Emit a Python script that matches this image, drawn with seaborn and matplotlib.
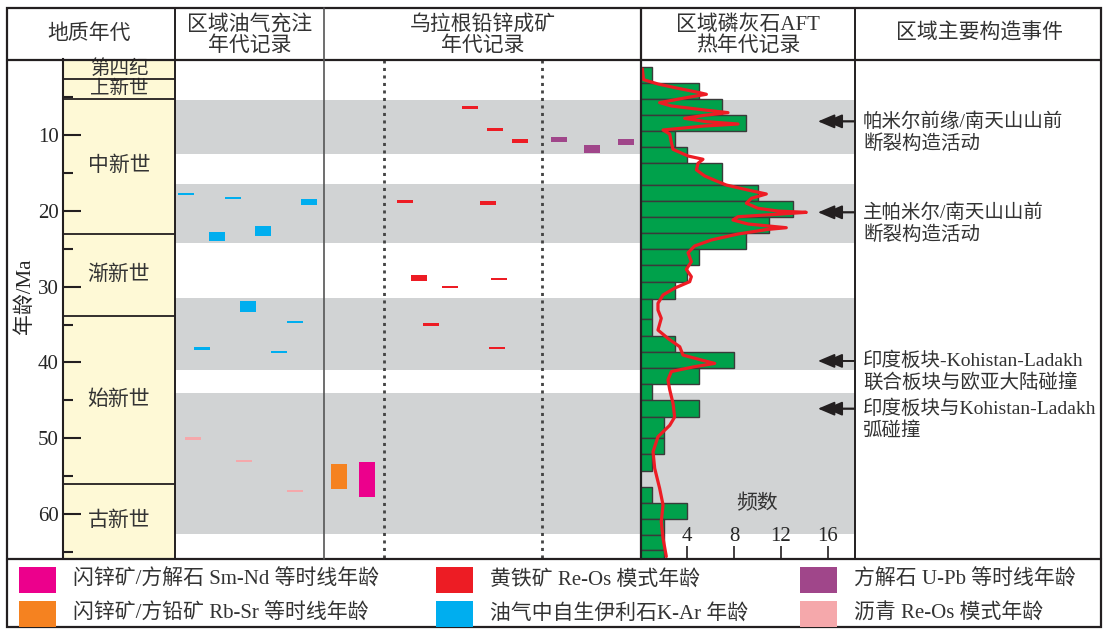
import numpy as np
import matplotlib
matplotlib.use("Agg")
import matplotlib.pyplot as plt
import seaborn as sns
from matplotlib.patches import Rectangle

# ---------------- data ----------------
# geological time scale (Ma)
epoch_names = ["第四纪", "上新世", "中新世", "渐新世", "始新世", "古新世"]
epoch_bounds = [0.0, 2.6, 5.3, 23.0, 33.9, 56.0, 65.8]

# periods highlighted in grey (Ma)
band_top = [5.4, 16.5, 31.5, 44.0]
band_base = [12.5, 24.2, 41.0, 62.6]

# regional hydrocarbon charge: authigenic illite K-Ar (age, half-range, sample slot)
illite_age = [17.80, 38.17, 23.39, 18.33, 32.65, 22.64, 38.61, 34.65, 18.84]
illite_err = [0.12, 0.12, 0.55, 0.12, 0.75, 0.64, 0.12, 0.12, 0.40]
illite_slot = [3, 19, 34, 50, 65, 80, 96, 112, 126]
# bitumen Re-Os model ages
bitumen_age = [50.04, 53.03, 56.98]
bitumen_err = [0.12, 0.12, 0.12]
bitumen_slot = [10, 61, 112]

# Uragen Pb-Zn mineralization
smnd_age = [55.40]
smnd_err = [2.30]
smnd_slot = [35]
rbsr_age = [55.05]
rbsr_err = [1.65]
rbsr_slot = [7]
pyrite_age = [6.37, 9.27, 10.80, 18.75, 18.95, 28.85, 29.02, 30.08, 35.00, 38.05]
pyrite_err = [0.11, 0.11, 0.22, 0.22, 0.22, 0.35, 0.10, 0.12, 0.12, 0.12]
pyrite_slot = [138, 163, 188, 73, 156, 87, 167, 118, 99, 165]
calcite_age = [10.60, 11.87, 10.95]
calcite_err = [0.30, 0.50, 0.42]
calcite_slot = [227, 260, 294]

# apatite fission-track ages: histogram bins (Ma) and counts
aft_edges = [1.07, 3.18, 5.29, 7.4, 9.5, 11.6, 13.7, 16.6, 18.7, 20.86, 22.97,
             25.1, 27.2, 29.4, 31.6, 34.3, 36.5, 38.6, 40.8, 42.9, 45.0, 47.2,
             50.0, 52.1, 54.3, 56.4, 58.5, 60.7, 62.7, 64.8, 66.9]
aft_counts = [1, 5, 7, 9, 3, 4, 7, 10, 13, 11, 9, 5, 4, 3, 1, 1, 3, 8, 5, 1,
              5, 2, 2, 1, 0, 1, 4, 2, 2, 2]
# probability density curve (age in Ma, scaled frequency)
pdf_age = [1.3, 2.7, 3.27, 3.84, 4.37, 4.63, 5.03, 5.73, 6.17, 6.70, 7.05, 7.4,
           7.8, 8.24, 8.55, 8.81, 9.34, 9.87, 11.0, 11.89, 12.77, 13.2, 13.73,
           14.6, 15.4, 16.0, 16.6, 17.26, 17.78, 18.35, 19.0, 19.67, 20.03,
           20.2, 20.42, 20.78, 21.21, 21.74, 22.23, 22.45, 23.06, 23.85, 24.64,
           25.53, 26.71, 27.72, 28.69, 29.35, 30.2, 31.1, 32.2, 33.09, 34.18,
           35.73, 36.83, 37.93, 39.03, 39.68, 40.13, 40.56, 41.2, 42.3, 43.6,
           45.4, 47.2, 48.3, 49.8, 51.78, 53.97, 56.6, 58.8, 61.0, 63.2, 65.6]
pdf_freq = [0.2, 0.3, 1.53, 3.23, 4.94, 5.65, 4.09, 1.67, 2.67, 5.5, 7.49, 5.5,
            3.8, 5.65, 8.34, 5.5, 1.96, 2.53, 2.67, 2.81, 4.09, 5.36, 4.94,
            4.8, 5.5, 6.4, 7.35, 9.19, 10.75, 9.48, 9.05, 10.04, 11.74,
            14.15, 12.03, 8.34, 7.91, 9.19, 12.45, 10.89, 8.34, 6.07, 4.65,
            4.09, 4.37, 3.94, 4.37, 4.23, 2.95, 1.96, 1.53, 1.53, 1.81,
            1.53, 2.38, 3.38, 3.66, 5.22, 6.36, 4.65, 2.67, 2.38, 2.53,
            2.81, 2.95, 2.53, 1.53, 1.11, 1.25, 1.67, 1.96, 1.81, 1.96, 2.24]
freq_ticks = [4, 8, 12, 16]

# regional tectonic events
event_age = [8.2, 20.2, 39.8, 46.1]
event_line1 = ["帕米尔前缘/南天山山前", "主帕米尔/南天山山前",
               "印度板块-Kohistan-Ladakh", "印度板块与Kohistan-Ladakh"]
event_line2 = ["断裂构造活动", "断裂构造活动", "联合板块与欧亚大陆碰撞", "弧碰撞"]

# column headers and legend
headers = ["地质年代", "区域油气充注\n年代记录", "乌拉根铅锌成矿\n年代记录",
           "区域磷灰石AFT\n热年代记录", "区域主要构造事件"]
legend_labels = ["闪锌矿/方解石 Sm-Nd 等时线年龄", "黄铁矿 Re-Os 模式年龄",
                 "方解石 U-Pb 等时线年龄", "闪锌矿/方铅矿 Rb-Sr 等时线年龄",
                 "油气中自生伊利石K-Ar 年龄", "沥青 Re-Os 模式年龄"]

# ---------------- style ----------------
C_SMND = "#ec008c"
C_PYR = "#ed1c24"
C_CAL = "#a0468a"
C_RBSR = "#f58220"
C_ILL = "#00aeef"
C_BIT = "#f5a8ab"
C_GREEN = "#00a14b"
C_GREY = "#d1d3d4"
C_YELLOW = "#fef9d6"
C_LINE = "#231f20"
C_TEXT = "#333333"
legend_colors = [C_SMND, C_PYR, C_CAL, C_RBSR, C_ILL, C_BIT]

sns.set_theme(style="white")
plt.rcParams["font.family"] = ["Liberation Serif", "Noto Sans CJK SC"]
plt.rcParams["axes.unicode_minus"] = False
FS = 15
FS_EVT = 14

W, H = 1110, 629
Y_TOP, Y_BOT = 59.2, 558.0
AGE_MAX = 65.8
fig = plt.figure(figsize=(W / 100, H / 100), dpi=100)


def px_axes(x0, x1):
    return fig.add_axes([x0 / W, 1 - Y_BOT / H, (x1 - x0) / W, (Y_BOT - Y_TOP) / H])


def age_marks(ax, slots, ages, errs, color, width=16, min_h=0.3):
    ages = np.asarray(ages, float)
    h = np.maximum(2 * np.asarray(errs, float), min_h)
    ax.bar(slots, h, bottom=ages - h / 2, width=width, align="edge",
           color=color, edgecolor="none", zorder=3)


# ---- geological column ----
ax_geo = px_axes(63, 175)
ax_geo.set_facecolor(C_YELLOW)
ax_geo.set_xlim(0, 1)
ax_geo.set_ylim(AGE_MAX, 0)
for b in epoch_bounds[1:-1]:
    ax_geo.axhline(b, color=C_LINE, lw=1.3, zorder=2)
for name, a0, a1 in zip(epoch_names, epoch_bounds[:-1], epoch_bounds[1:]):
    size = FS if (a1 - a0) > 5 else 14
    ax_geo.text(0.5, (a0 + a1) / 2, name, ha="center", va="center",
                fontsize=size, color=C_TEXT, zorder=1)
ax_geo.set_xticks([])
ax_geo.set_yticks([10, 20, 30, 40, 50, 60])
ax_geo.set_yticks([5, 15, 25, 35, 45, 55, 65], minor=True)
ax_geo.tick_params(axis="y", which="major", direction="in", length=13, width=1.5,
                   color=C_LINE, labelsize=FS, pad=3, left=True)
ax_geo.tick_params(axis="y", which="minor", direction="in", length=7, width=1.5,
                   color=C_LINE, left=True)
for s in ["top", "right", "bottom"]:
    ax_geo.spines[s].set_visible(False)
ax_geo.spines["left"].set_color(C_LINE)
ax_geo.spines["left"].set_linewidth(1.5)
ax_geo.set_ylabel("年龄/Ma", fontsize=FS, ha="center", va="center")
ax_geo.yaxis.set_label_coords(-0.34, 0.525)

# ---- hydrocarbon charge column ----
ax_oil = px_axes(175, 324)
ax_oil.set_xlim(0, 149)
# ---- Pb-Zn column ----
ax_pb = px_axes(324, 641)
ax_pb.set_xlim(0, 317)
# ---- AFT column ----
ax_aft = px_axes(640, 855)
# ---- events column ----
ax_evt = px_axes(855, 1101)
ax_evt.set_xlim(0, 246)

for ax in (ax_oil, ax_pb, ax_aft, ax_evt):
    ax.set_ylim(AGE_MAX, 0)
    for s in ax.spines.values():
        s.set_visible(False)
for ax in (ax_oil, ax_pb, ax_aft):
    for t, b in zip(band_top, band_base):
        ax.axhspan(t, b, color=C_GREY, lw=0, zorder=0)

age_marks(ax_oil, illite_slot, illite_age, illite_err, C_ILL)
age_marks(ax_oil, bitumen_slot, bitumen_age, bitumen_err, C_BIT)
ax_oil.set_xticks([])
ax_oil.set_yticks([])

for xd in (60, 218):
    ax_pb.axvline(xd, color="#444444", lw=2, ls=(0, (1.1, 1.6)), zorder=2)
age_marks(ax_pb, rbsr_slot, rbsr_age, rbsr_err, C_RBSR)
age_marks(ax_pb, smnd_slot, smnd_age, smnd_err, C_SMND)
age_marks(ax_pb, pyrite_slot, pyrite_age, pyrite_err, C_PYR)
age_marks(ax_pb, calcite_slot, calcite_age, calcite_err, C_CAL)
ax_pb.set_xticks([])
ax_pb.set_yticks([])

aft_mid = [(a + b) / 2 for a, b in zip(aft_edges[:-1], aft_edges[1:])]
sns.histplot(y=aft_mid, weights=aft_counts, bins=aft_edges, ax=ax_aft,
             color=C_GREEN, alpha=1, edgecolor="#3a3a3a", linewidth=1.0, zorder=2)
sns.lineplot(x=pdf_freq, y=pdf_age, sort=False, estimator=None, ax=ax_aft,
             color=C_PYR, lw=2.3, zorder=4)
ax_aft.set_xlim(0, 215 / 11.75)
ax_aft.set_ylim(AGE_MAX, 0)
ax_aft.set_xlabel("")
ax_aft.set_ylabel("")
ax_aft.set_yticks([])
ax_aft.set_xticks(freq_ticks)
ax_aft.tick_params(axis="x", direction="in", length=8.5, width=1.2, color=C_LINE,
                   labelsize=FS, pad=-22, bottom=True)
ax_aft.text(10.0, 58.8, "频数", ha="center", va="center", fontsize=FS, color=C_TEXT)

# event arrows (double chevrons pointing into the AFT column)
x_edge = 215 / 11.75
for a in event_age:
    for tip in (15.15, 15.8):
        ax_aft.annotate("", xy=(tip, a), xytext=(x_edge, a),
                        arrowprops=dict(arrowstyle="-|>,head_length=0.85,head_width=0.36",
                                        color=C_LINE, lw=1.3, shrinkA=0, shrinkB=0),
                        zorder=5)

# event descriptions
ax_evt.set_xticks([])
ax_evt.set_yticks([])
for a, l1, l2 in zip(event_age, event_line1, event_line2):
    ax_evt.text(8, a, l1, ha="left", va="center", fontsize=FS_EVT, color=C_TEXT)
    ax_evt.text(8, a + 2.9, l2, ha="left", va="center", fontsize=FS_EVT, color=C_TEXT)

# ---- frame, headers and legend ----
ov = fig.add_axes([0, 0, 1, 1])
ov.set_facecolor("none")
ov.set_xlim(0, W)
ov.set_ylim(H, 0)
ov.axis("off")

ov.add_patch(Rectangle((7, 8), 1094, 619, fill=False, ec=C_LINE, lw=1.6))
ov.plot([7, 1101], [60, 60], color=C_LINE, lw=1.6)
ov.plot([7, 1101], [558.5, 558.5], color=C_LINE, lw=1.6)
for xv, col, lw in [(175, C_LINE, 1.4), (324, "#555555", 1.2), (641, C_LINE, 1.6),
                    (855, C_LINE, 1.4)]:
    ov.plot([xv, xv], [8, 558.5], color=col, lw=lw)

header_x = [89, 250, 483, 748, 980]
for hx, txt in zip(header_x, headers):
    lines = txt.split("\n")
    if len(lines) == 1:
        ov.text(hx, 34, lines[0], ha="center", va="center", fontsize=FS, color=C_TEXT)
    else:
        ov.text(hx, 25, lines[0], ha="center", va="center", fontsize=FS, color=C_TEXT)
        ov.text(hx, 46, lines[1], ha="center", va="center", fontsize=FS, color=C_TEXT)

legend_x = [19, 436, 800]
legend_y = [579.5, 613.5]
for i, (lab, col) in enumerate(zip(legend_labels, legend_colors)):
    lx = legend_x[i % 3]
    ly = legend_y[i // 3]
    ov.add_patch(Rectangle((lx, ly - 13), 37, 26, color=col, lw=0))
    ov.text(lx + 54, ly, lab, ha="left", va="center", fontsize=FS, color=C_TEXT)

fig.savefig("out.png", dpi=100)
